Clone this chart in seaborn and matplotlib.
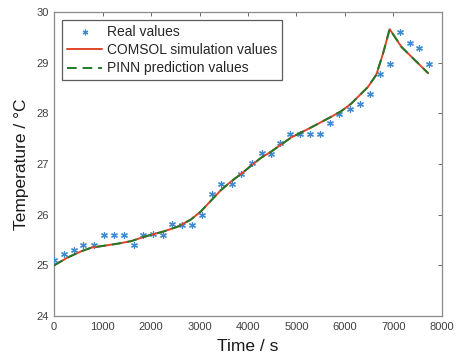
import matplotlib
matplotlib.use("Agg")
import matplotlib.pyplot as plt
import seaborn as sns
import pandas as pd

# ---- data ----
real_time = [0, 207, 414, 607, 814, 1021, 1228, 1435, 1642, 1836, 2043, 2251, 2437,
             2644, 2851, 3058, 3251, 3451, 3665, 3865, 4079, 4280, 4472, 4665, 4872,
             5079, 5286, 5493, 5700, 5886, 6108, 6315, 6522, 6714, 6921, 7128, 7335,
             7530, 7737]
real_temp = [25.11, 25.22, 25.31, 25.41, 25.41, 25.60, 25.60, 25.60, 25.41, 25.60,
             25.62, 25.59, 25.81, 25.80, 25.80, 26.00, 26.41, 26.60, 26.60, 26.80,
             27.02, 27.21, 27.19, 27.41, 27.60, 27.60, 27.60, 27.60, 27.80, 27.99,
             28.09, 28.19, 28.39, 28.78, 28.98, 29.60, 29.39, 29.29, 28.98]

sim_time = [0, 290, 565, 772, 1050, 1325, 1600, 1878, 2263, 2540, 2816, 3023, 3230,
            3437, 3644, 3851, 4058, 4265, 4472, 4886, 5300, 5714, 5921, 6128, 6474,
            6646, 6785, 6921, 7164, 7439, 7716]
comsol_temp = [25.00, 25.16, 25.28, 25.35, 25.39, 25.43, 25.48, 25.57, 25.67, 25.76,
               25.90, 26.06, 26.27, 26.48, 26.65, 26.80, 26.96, 27.12, 27.24, 27.52,
               27.72, 27.93, 28.04, 28.19, 28.52, 28.76, 29.18, 29.66, 29.31, 29.05,
               28.79]
pinn_temp = [25.00, 25.16, 25.28, 25.35, 25.39, 25.43, 25.48, 25.57, 25.67, 25.76,
             25.90, 26.06, 26.27, 26.48, 26.65, 26.80, 26.96, 27.12, 27.24, 27.52,
             27.72, 27.93, 28.04, 28.19, 28.52, 28.76, 29.18, 29.66, 29.31, 29.05,
             28.79]

x_ticks = [0, 1000, 2000, 3000, 4000, 5000, 6000, 7000, 8000]
y_ticks = [24, 25, 26, 27, 28, 29, 30]

sns.set_style("white")
plt.rcParams['font.family'] = ['Liberation Sans', 'DejaVu Sans']

df_real = pd.DataFrame({"t": real_time, "T": real_temp})
df_sim = pd.DataFrame({"t": sim_time, "comsol": comsol_temp, "pinn": pinn_temp})

fig = plt.figure(figsize=(4.58, 3.60), dpi=100)
ax = fig.add_axes([0.118, 0.122, 0.847, 0.845])

sns.scatterplot(data=df_real, x="t", y="T", ax=ax, marker=(6, 2, 0), s=18,
                color="#3d8ad0", linewidth=0.9, edgecolor="#3d8ad0",
                label="Real values", zorder=3)
sns.lineplot(data=df_sim, x="t", y="comsol", ax=ax, color="#e0452a", lw=1.4,
             label="COMSOL simulation values", zorder=4)
sns.lineplot(data=df_sim, x="t", y="pinn", ax=ax, color="#1f7a2a", lw=1.4,
             linestyle=(0, (5, 3)), label="PINN prediction values", zorder=5)

ax.set_xlim(0, 8000)
ax.set_ylim(24, 30)
ax.set_xticks(x_ticks)
ax.set_yticks(y_ticks)
ax.set_xticklabels([str(v) for v in x_ticks])
ax.set_yticklabels([str(v) for v in y_ticks])
ax.tick_params(direction="in", length=3, width=0.6, color="#555555",
               labelsize=8, labelcolor="#404040", top=True, right=True,
               labeltop=False, labelright=False, pad=4)
for sp in ax.spines.values():
    sp.set_visible(True)
    sp.set_color("#8a8a8a")
    sp.set_linewidth(0.9)

ax.set_xlabel("Time / s", fontsize=12.5, color="#1a1a1a", labelpad=5)
ax.set_ylabel("Temperature / °C", fontsize=12.5, color="#1a1a1a", labelpad=5)

leg = ax.legend(loc="upper left", fontsize=10, frameon=True, fancybox=False,
                borderaxespad=0.6, borderpad=0.35, labelspacing=0.3,
                handlelength=2.5, handletextpad=0.35, markerscale=0.8)
leg.get_frame().set_edgecolor("#333333")
leg.get_frame().set_linewidth(0.9)

fig.savefig("out.png", dpi=100)
